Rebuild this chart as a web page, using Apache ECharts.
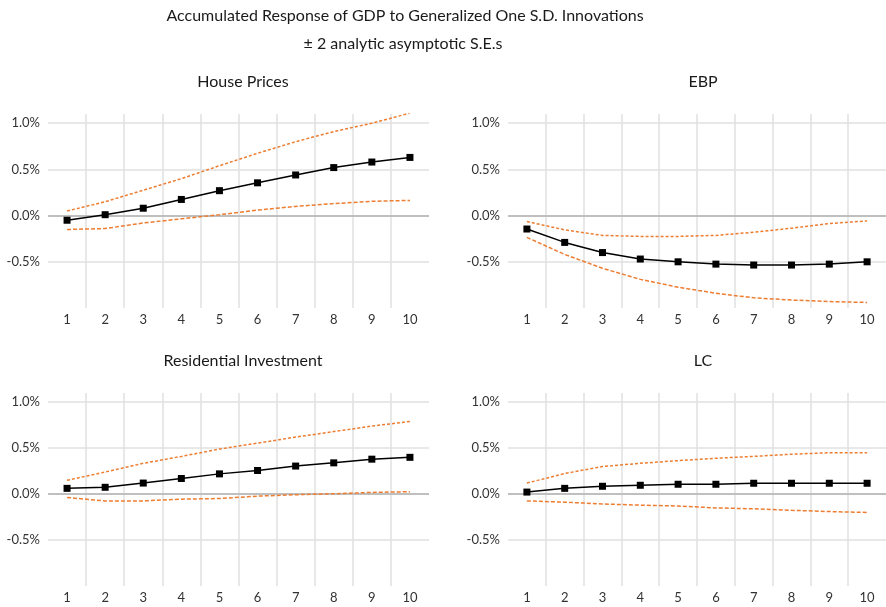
<!DOCTYPE html>
<html><head><meta charset="utf-8">
<script src="https://cdn.jsdelivr.net/npm/echarts@6/dist/echarts.min.js"></script>
<style>html,body{margin:0;padding:0;background:#fff}#c{width:886px;height:607px}</style>
</head><body><div id="c"></div>
<script>
const periods = ['1','2','3','4','5','6','7','8','9','10'];
const yTicks = [-0.5, 0, 0.5, 1.0];

const housePricesMid   = [-0.05, 0.01, 0.08, 0.175, 0.27, 0.355, 0.44, 0.52, 0.58, 0.63];
const housePricesUpper = [0.05, 0.15, 0.275, 0.40, 0.54, 0.675, 0.80, 0.91, 1.0, 1.11];
const housePricesLower = [-0.15, -0.14, -0.08, -0.035, 0.01, 0.06, 0.10, 0.13, 0.155, 0.165];

const ebpMid   = [-0.145, -0.29, -0.40, -0.47, -0.50, -0.525, -0.535, -0.535, -0.525, -0.50];
const ebpUpper = [-0.064, -0.154, -0.214, -0.225, -0.225, -0.214, -0.18, -0.136, -0.086, -0.057];
const ebpLower = [-0.236, -0.42, -0.57, -0.69, -0.775, -0.84, -0.89, -0.914, -0.93, -0.94];

const resInvMid   = [0.0625, 0.074, 0.12, 0.17, 0.22, 0.257, 0.305, 0.34, 0.38, 0.40];
const resInvUpper = [0.15, 0.24, 0.335, 0.41, 0.49, 0.555, 0.62, 0.68, 0.74, 0.79];
const resInvLower = [-0.037, -0.074, -0.074, -0.055, -0.048, -0.022, -0.007, 0.004, 0.018, 0.026];

const lcMid   = [0.022, 0.0625, 0.085, 0.096, 0.107, 0.107, 0.118, 0.118, 0.118, 0.118];
const lcUpper = [0.12, 0.224, 0.30, 0.335, 0.364, 0.39, 0.41, 0.434, 0.45, 0.45];
const lcLower = [-0.074, -0.088, -0.107, -0.12, -0.13, -0.15, -0.16, -0.176, -0.19, -0.20];

const panels = [
  {name:'House Prices', mid:housePricesMid, up:housePricesUpper, lo:housePricesLower},
  {name:'EBP', mid:ebpMid, up:ebpUpper, lo:ebpLower},
  {name:'Residential Investment', mid:resInvMid, up:resInvUpper, lo:resInvLower},
  {name:'LC', mid:lcMid, up:lcUpper, lo:lcLower}
];

const FONT = 'Lato';
const gridPos = [
  {left:48, width:381, top:114, height:194},
  {left:508, width:381, top:114, height:194},
  {left:48, width:381, top:393, height:193},
  {left:508, width:381, top:393, height:193}
];
const titlePos = [{x:238,y:69},{x:698,y:69},{x:238,y:348},{x:698,y:348}];

const grid = [], xAxis = [], yAxis = [], series = [];
const title = [
  {text:'Accumulated Response of GDP to Generalized One S.D. Innovations', left:400, top:3, textAlign:'center',
   textStyle:{fontFamily:FONT, fontSize:16, fontWeight:'normal', color:'#1a1a1a'}},
  {text:'\u00B1 2 analytic asymptotic S.E.s', left:398, top:31, textAlign:'center',
   textStyle:{fontFamily:FONT, fontSize:16, fontWeight:'normal', color:'#1a1a1a'}}
];

panels.forEach((p, i) => {
  grid.push(Object.assign({containLabel:false}, gridPos[i]));
  title.push({text:p.name, left:titlePos[i].x, top:titlePos[i].y, textAlign:'center',
    textStyle:{fontFamily:FONT, fontSize:16, fontWeight:'normal', color:'#1a1a1a'}});
  xAxis.push({type:'category', gridIndex:i, data:periods, boundaryGap:true,
    axisLine:{show:false}, axisTick:{show:false},
    axisLabel:{color:'#333', fontFamily:FONT, fontSize:13, margin:5},
    splitLine:{show:true, showMinLine:false, showMaxLine:false, lineStyle:{color:'#e0e0e0', width:1.5}}});
  yAxis.push({type:'value', gridIndex:i, min:-1, max:1.1, interval:0.5,
    axisLine:{show:false}, axisTick:{show:false},
    axisLabel:{color:'#333', fontFamily:FONT, fontSize:13, margin:8, showMinLabel:false, showMaxLabel:false,
      formatter: v => yTicks.some(t => Math.abs(t - v) < 1e-9) ? v.toFixed(1) + '%' : ''},
    splitLine:{show:true, showMinLine:false, showMaxLine:false, lineStyle:{color:'#e0e0e0', width:1.5}}});
  series.push({type:'line', xAxisIndex:i, yAxisIndex:i, data:p.up, symbol:'none', silent:true,
    lineStyle:{color:'#ed7d31', width:1.5, type:[3,2]}, z:3,
    markLine:{silent:true, symbol:'none', label:{show:false},
      lineStyle:{color:'#bfbfbf', width:2, type:'solid'}, data:[{yAxis:0}], z:2}});
  series.push({type:'line', xAxisIndex:i, yAxisIndex:i, data:p.lo, symbol:'none', silent:true,
    lineStyle:{color:'#ed7d31', width:1.5, type:[4,2]}, z:3});
  series.push({type:'line', xAxisIndex:i, yAxisIndex:i, data:p.mid, symbol:'rect', symbolSize:7,
    itemStyle:{color:'#000'}, lineStyle:{color:'#000', width:1.5}, z:4});
});

const chart = echarts.init(document.getElementById('c'), null, {renderer:'canvas'});
chart.setOption({animation:false, backgroundColor:'#fff', title, grid, xAxis, yAxis, series});
</script></body></html>
